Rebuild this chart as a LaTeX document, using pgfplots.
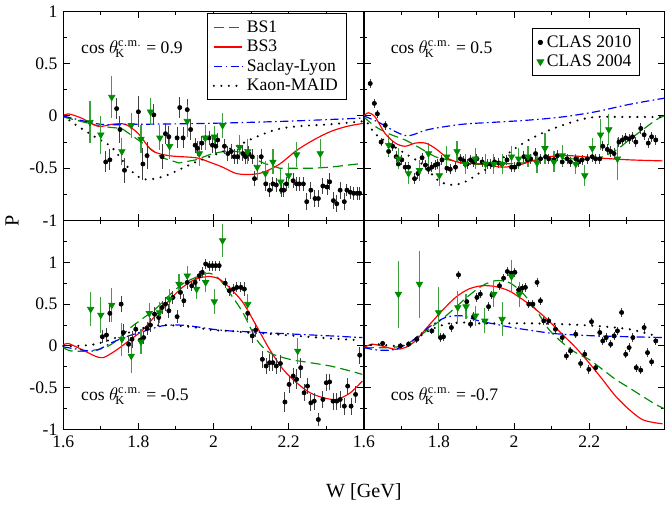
\documentclass[border=0pt]{standalone}
\usepackage{pgfplots}
\pgfplotsset{compat=1.18}
\usepgfplotslibrary{groupplots}
\usepackage{fontspec}
\setmainfont{Liberation Serif}
\definecolor{dgreen}{RGB}{0,140,0}
\definecolor{lgreen}{RGB}{60,160,60}
\pgfplotsset{
 bsone/.style={dgreen, dash pattern=on 6pt off 3pt, line width=0.7pt, no marks},
 bsthree/.style={red, line width=0.7pt, no marks},
 saclay/.style={blue, line width=0.7pt, dash pattern=on 5pt off 2pt on 1pt off 2pt, no marks},
 maid/.style={black, line width=1.4pt, dash pattern=on 0pt off 4.5pt, line cap=round, no marks},
 clasten/.style={only marks, mark=*, mark size=1.25pt, black, error bars/.cd, y dir=both, y explicit, error bar style={black!75, line width=0.6pt}, error mark=none},
 clasfour/.style={only marks, mark=triangle*, mark options={rotate=180, fill=dgreen, draw=dgreen}, mark size=2.2pt, dgreen, error bars/.cd, y dir=both, y explicit, error bar style={lgreen, line width=0.7pt}, error mark=none},
}
\tikzset{lab/.style={anchor=west, font=\fontsize{10.5}{12}\selectfont}}
\newcommand{\ct}[1]{cos $\theta^{\mathrm{c.m.}}_{\!\mathrm{K}}$ = #1}
\begin{document}
\begin{tikzpicture}
\begin{groupplot}[
 group style={group size=2 by 2, horizontal sep=0pt, vertical sep=0pt},
 scale only axis, width=179.4pt, height=124.8pt,
 xmin=1.6, xmax=2.4, xtick={1.6,1.8,2,2.2,2.4}, minor x tick num=1,
 minor y tick num=1, tick align=inside, tick pos=both,
 major tick length=4pt, minor tick length=2pt,
 /pgf/number format/assume math mode=true,
 ticklabel style={font=\fontsize{10.5}{12}\selectfont},
 axis line style={line width=0.8pt}, every tick/.style={black, line width=0.6pt},
 legend cell align=left,
 legend style={font=\fontsize{10.5}{12}\selectfont, draw=black, fill=white, line width=0.6pt, row sep=-1pt},
]
%%%%%%%%%%%%%%%%%% top left
\nextgroupplot[ymin=-1, ymax=1, ytick={-1,-0.5,0,0.5,1}, xticklabels={}, yticklabels={-1,-0.5,0,0.5,1},
 legend style={at={(rel axis cs:0.943,0.99)}, anchor=north east}]
\addplot[bsone] coordinates {(1.6,-0.01)(1.7,-0.1)(1.756,-0.12)(1.827,-0.3)(1.863,-0.4)(1.908,-0.45)(1.953,-0.42)(1.997,-0.36)(2.042,-0.33)(2.078,-0.35)(2.132,-0.45)(2.176,-0.5)(2.221,-0.5)(2.266,-0.5)(2.311,-0.49)(2.382,-0.46)(2.4,-0.45)};
\addlegendentry{BS1}
\addplot[bsthree, smooth] coordinates {(1.6,0)(1.613,0.02)(1.648,-0.02)(1.693,-0.1)(1.729,-0.08)(1.765,-0.08)(1.8,-0.17)(1.836,-0.33)(1.881,-0.38)(1.953,-0.4)(1.988,-0.44)(2.024,-0.49)(2.060,-0.55)(2.096,-0.56)(2.132,-0.54)(2.176,-0.46)(2.221,-0.33)(2.266,-0.23)(2.311,-0.15)(2.355,-0.1)(2.4,-0.07)};
\addlegendentry{BS3}
\addplot[saclay, smooth] coordinates {(1.6,0)(1.7,-0.08)(1.8,-0.08)(2.0,-0.07)(2.2,-0.05)(2.4,-0.02)};
\addlegendentry{Saclay-Lyon}
\addplot[maid, smooth] coordinates {(1.6,0)(1.631,-0.08)(1.684,-0.2)(1.729,-0.3)(1.774,-0.5)(1.809,-0.6)(1.845,-0.6)(1.881,-0.56)(1.917,-0.5)(1.953,-0.44)(1.997,-0.38)(2.060,-0.29)(2.114,-0.2)(2.167,-0.13)(2.221,-0.1)(2.311,-0.08)(2.4,-0.05)};
\addlegendentry{Kaon-MAID}
\addplot[forget plot, clasten] table[row sep=\\, y error=e] {
x y e\\ 1.713 -0.44 0.1\\ 1.724 -0.42 0.1\\ 1.742 0.07 0.1\\ 1.751 -0.13 0.13\\ 1.763 -0.52 0.12\\ 1.800 0.04 0.15\\ 1.812 -0.46 0.15\\ 1.823 -0.38 0.13\\ 1.841 0.01 0.1\\ 1.863 -0.39 0.12\\ 1.872 -0.17 0.1\\ 1.881 -0.20 0.1\\ 1.903 -0.21 0.1\\ 1.910 0.08 0.1\\ 1.919 -0.21 0.1\\ 1.930 0.06 0.1\\ 1.939 -0.13 0.1\\ 1.951 -0.28 0.07\\ 1.957 -0.31 0.07\\ 1.969 -0.26 0.07\\ 1.978 -0.21 0.07\\ 1.988 -0.21 0.07\\ 1.997 -0.28 0.07\\ 2.006 -0.29 0.07\\ 2.011 -0.23 0.07\\ 2.029 -0.29 0.07\\ 2.038 -0.36 0.07\\ 2.047 -0.34 0.07\\ 2.055 -0.39 0.07\\ 2.064 -0.39 0.07\\ 2.078 -0.36 0.07\\ 2.085 -0.39 0.07\\ 2.094 -0.36 0.07\\ 2.103 -0.39 0.07\\ 2.109 -0.60 0.07\\ 2.127 -0.39 0.07\\ 2.139 -0.65 0.07\\ 2.149 -0.71 0.07\\ 2.158 -0.65 0.07\\ 2.167 -0.66 0.07\\ 2.181 -0.71 0.07\\ 2.187 -0.71 0.07\\ 2.194 -0.65 0.07\\ 2.212 -0.62 0.07\\ 2.221 -0.65 0.07\\ 2.228 -0.65 0.07\\ 2.239 -0.65 0.07\\ 2.248 -0.82 0.08\\ 2.259 -0.71 0.08\\ 2.270 -0.79 0.08\\ 2.279 -0.79 0.08\\ 2.291 -0.67 0.08\\ 2.302 -0.68 0.08\\ 2.309 -0.63 0.08\\ 2.319 -0.81 0.08\\ 2.328 -0.84 0.08\\ 2.337 -0.71 0.08\\ 2.348 -0.82 0.08\\ 2.355 -0.71 0.06\\ 2.364 -0.73 0.06\\ 2.373 -0.74 0.06\\ 2.382 -0.74 0.06\\ 2.389 -0.74 0.06\\
};
\addplot[forget plot, clasfour] table[row sep=\\, y error=e] {
x y e\\ 1.671 -0.06 0.2\\ 1.700 -0.18 0.18\\ 1.729 0.18 0.2\\ 1.756 -0.34 0.13\\ 1.781 -0.09 0.12\\ 1.807 -0.22 0.13\\ 1.832 0.04 0.13\\ 1.857 -0.21 0.12\\ 1.883 -0.29 0.12\\ 1.930 -0.05 0.15\\ 1.962 -0.36 0.12\\ 1.978 -0.21 0.12\\ 2.002 -0.20 0.1\\ 2.024 -0.09 0.12\\ 2.069 -0.30 0.12\\ 2.091 -0.34 0.12\\ 2.116 -0.49 0.12\\ 2.138 -0.55 0.12\\ 2.158 -0.44 0.12\\ 2.179 -0.63 0.12\\ 2.200 -0.57 0.12\\ 2.221 -0.37 0.12\\ 2.284 -0.36 0.14\\
};
\node[lab] at (rel axis cs:0.04,0.82) {\ct{0.9}};
%%%%%%%%%%%%%%%%%% top right
\nextgroupplot[ymin=-1, ymax=1, ytick={-1,-0.5,0,0.5,1}, xticklabels={}, yticklabels={},
 legend style={at={(rel axis cs:0.92,0.92)}, anchor=north east}]
\addplot[clasten] table[row sep=\\, y error=e] {
x y e\\ 1.617 0.31 0.04\\ 1.628 0.12 0.04\\ 1.636 0.02 0.04\\ 1.646 -0.25 0.04\\ 1.657 -0.09 0.04\\ 1.666 -0.34 0.05\\ 1.677 -0.29 0.05\\ 1.686 -0.39 0.05\\ 1.692 -0.46 0.05\\ 1.701 -0.42 0.05\\ 1.710 -0.49 0.05\\ 1.719 -0.49 0.05\\ 1.735 -0.60 0.05\\ 1.744 -0.55 0.05\\ 1.755 -0.40 0.05\\ 1.764 -0.47 0.05\\ 1.772 -0.51 0.05\\ 1.781 -0.49 0.05\\ 1.790 -0.47 0.05\\ 1.797 -0.46 0.05\\ 1.808 -0.42 0.05\\ 1.821 -0.50 0.05\\ 1.830 -0.51 0.05\\ 1.844 -0.49 0.05\\ 1.857 -0.41 0.05\\ 1.866 -0.43 0.05\\ 1.875 -0.46 0.05\\ 1.884 -0.42 0.05\\ 1.892 -0.44 0.05\\ 1.901 -0.41 0.05\\ 1.915 -0.44 0.05\\ 1.928 -0.46 0.05\\ 1.937 -0.46 0.05\\ 1.948 -0.44 0.05\\ 1.959 -0.45 0.05\\ 1.968 -0.46 0.05\\ 1.981 -0.42 0.05\\ 1.993 -0.49 0.05\\ 2.002 -0.49 0.05\\ 2.012 -0.46 0.05\\ 2.026 -0.39 0.05\\ 2.035 -0.42 0.05\\ 2.044 -0.41 0.05\\ 2.057 -0.36 0.05\\ 2.070 -0.41 0.05\\ 2.084 -0.39 0.05\\ 2.092 -0.41 0.05\\ 2.106 -0.42 0.05\\ 2.115 -0.38 0.05\\ 2.128 -0.44 0.05\\ 2.141 -0.41 0.05\\ 2.150 -0.44 0.05\\ 2.164 -0.41 0.05\\ 2.172 -0.44 0.05\\ 2.181 -0.42 0.05\\ 2.195 -0.41 0.05\\ 2.208 -0.39 0.05\\ 2.217 -0.41 0.05\\ 2.228 -0.41 0.05\\ 2.236 -0.29 0.05\\ 2.248 -0.32 0.05\\ 2.257 -0.34 0.05\\ 2.266 -0.36 0.05\\ 2.279 -0.25 0.05\\ 2.288 -0.23 0.05\\ 2.297 -0.21 0.05\\ 2.306 -0.22 0.05\\ 2.315 -0.20 0.05\\ 2.324 -0.25 0.05\\ 2.337 -0.12 0.05\\ 2.346 -0.18 0.05\\ 2.357 -0.26 0.05\\ 2.366 -0.20 0.05\\ 2.377 -0.23 0.05\\
};
\addlegendentry{CLAS 2010}
\addplot[clasfour] table[row sep=\\, y error=e] {
x y e\\ 1.666 -0.28 0.1\\ 1.692 -0.41 0.1\\ 1.719 -0.55 0.1\\ 1.748 -0.52 0.1\\ 1.772 -0.36 0.1\\ 1.801 -0.57 0.1\\ 1.821 -0.39 0.1\\ 1.848 -0.34 0.1\\ 1.870 -0.46 0.1\\ 1.897 -0.41 0.1\\ 1.924 -0.46 0.1\\ 1.946 -0.46 0.1\\ 1.968 -0.46 0.1\\ 1.993 -0.39 0.1\\ 2.012 -0.41 0.1\\ 2.037 -0.39 0.1\\ 2.061 -0.45 0.1\\ 2.082 -0.31 0.15\\ 2.106 -0.44 0.1\\ 2.128 -0.38 0.1\\ 2.164 -0.46 0.1\\ 2.188 -0.57 0.1\\ 2.208 -0.31 0.1\\ 2.230 -0.18 0.15\\ 2.252 -0.13 0.15\\ 2.275 -0.41 0.2\\
};
\addlegendentry{CLAS 2004}
\addplot[forget plot, bsone, smooth] coordinates {(1.6,-0.01)(1.630,-0.1)(1.666,-0.17)(1.710,-0.23)(1.746,-0.3)(1.790,-0.39)(1.826,-0.42)(1.879,-0.46)(1.950,-0.46)(2.021,-0.45)(2.084,-0.41)(2.146,-0.41)(2.217,-0.41)(2.270,-0.33)(2.306,-0.23)(2.377,-0.04)(2.4,0.0)};
\addplot[forget plot, bsthree, smooth] coordinates {(1.6,0)(1.612,0.03)(1.630,-0.01)(1.657,-0.17)(1.684,-0.26)(1.710,-0.29)(1.737,-0.26)(1.764,-0.26)(1.790,-0.31)(1.826,-0.41)(1.861,-0.45)(1.915,-0.46)(1.968,-0.49)(2.012,-0.47)(2.057,-0.42)(2.092,-0.39)(2.146,-0.38)(2.217,-0.40)(2.306,-0.42)(2.395,-0.43)};
\addplot[forget plot, saclay, smooth] coordinates {(1.6,0)(1.639,-0.06)(1.684,-0.15)(1.719,-0.19)(1.772,-0.13)(1.861,-0.08)(1.950,-0.06)(2.039,-0.04)(2.128,-0.01)(2.217,0.04)(2.306,0.11)(2.4,0.17)};
\addplot[forget plot, maid, smooth] coordinates {(1.6,-0.01)(1.630,-0.17)(1.666,-0.26)(1.710,-0.36)(1.755,-0.46)(1.799,-0.62)(1.835,-0.66)(1.870,-0.63)(1.906,-0.55)(1.950,-0.46)(1.995,-0.33)(2.039,-0.23)(2.084,-0.15)(2.128,-0.09)(2.172,-0.04)(2.217,-0.01)(2.306,-0.01)(2.4,-0.01)};
\node[lab] at (rel axis cs:0.07,0.82) {\ct{0.5}};
%%%%%%%%%%%%%%%%%% bottom left
\nextgroupplot[ymin=-1, ymax=1.5, ytick={-1,-0.5,0,0.5,1,1.5}, yticklabels={-1,-0.5,0,0.5,1,},
 xticklabels={1.6,1.8,2,2.2,}, clip=false]
\addplot[bsone, smooth] coordinates {(1.6,-0.02)(1.621,-0.06)(1.666,-0.06)(1.711,-0.02)(1.747,0.08)(1.774,0.2)(1.809,0.32)(1.845,0.44)(1.881,0.6)(1.917,0.74)(1.953,0.82)(1.988,0.87)(2.015,0.8)(2.042,0.64)(2.078,0.4)(2.114,0.08)(2.149,-0.08)(2.203,-0.16)(2.257,-0.2)(2.311,-0.24)(2.364,-0.3)(2.396,-0.34)};
\addplot[bsthree, smooth] coordinates {(1.6,0.01)(1.613,0.03)(1.648,-0.04)(1.684,-0.12)(1.706,-0.14)(1.738,-0.06)(1.774,0.06)(1.809,0.18)(1.845,0.36)(1.881,0.54)(1.917,0.7)(1.953,0.8)(1.988,0.83)(2.015,0.8)(2.042,0.7)(2.078,0.52)(2.114,0.24)(2.149,-0.04)(2.185,-0.28)(2.221,-0.44)(2.257,-0.56)(2.293,-0.62)(2.328,-0.64)(2.364,-0.56)(2.396,-0.42)};
\addplot[saclay, smooth] coordinates {(1.6,-0.01)(1.639,-0.04)(1.684,-0.06)(1.729,0.04)(1.774,0.12)(1.818,0.18)(1.863,0.24)(1.908,0.25)(1.953,0.23)(1.997,0.2)(2.042,0.18)(2.087,0.17)(2.132,0.16)(2.221,0.14)(2.311,0.12)(2.396,0.1)};
\addplot[maid, smooth] coordinates {(1.6,0)(1.639,0)(1.684,0.02)(1.729,0.08)(1.774,0.16)(1.818,0.22)(1.863,0.25)(1.908,0.24)(1.953,0.22)(1.997,0.19)(2.042,0.18)(2.087,0.16)(2.132,0.15)(2.221,0.12)(2.311,0.09)(2.382,0.07)};
\addplot[clasten] table[row sep=\\, y error=e] {
x y e\\ 1.704 0.11 0.08\\ 1.715 0.13 0.08\\ 1.724 0.39 0.1\\ 1.754 0.50 0.1\\ 1.760 0.16 0.1\\ 1.774 0.02 0.1\\ 1.783 0.08 0.1\\ 1.793 0.20 0.08\\ 1.805 0.07 0.08\\ 1.814 0.10 0.08\\ 1.823 0.21 0.08\\ 1.832 0.25 0.08\\ 1.843 0.38 0.08\\ 1.854 0.34 0.08\\ 1.863 0.46 0.08\\ 1.872 0.50 0.08\\ 1.881 0.42 0.08\\ 1.892 0.58 0.08\\ 1.903 0.35 0.08\\ 1.912 0.64 0.08\\ 1.921 0.54 0.08\\ 1.930 0.76 0.08\\ 1.942 0.72 0.06\\ 1.951 0.76 0.06\\ 1.962 0.84 0.06\\ 1.970 0.88 0.06\\ 1.979 0.98 0.06\\ 1.988 0.96 0.06\\ 1.997 0.96 0.06\\ 2.006 0.96 0.06\\ 2.015 0.96 0.06\\ 2.031 0.75 0.06\\ 2.042 0.66 0.06\\ 2.053 0.68 0.06\\ 2.062 0.70 0.06\\ 2.073 0.70 0.06\\ 2.082 0.68 0.08\\ 2.091 0.39 0.08\\ 2.103 0.12 0.08\\ 2.112 0.19 0.08\\ 2.130 -0.16 0.1\\ 2.140 -0.24 0.1\\ 2.149 -0.20 0.1\\ 2.158 -0.20 0.1\\ 2.167 -0.24 0.1\\ 2.178 -0.21 0.1\\ 2.190 -0.67 0.12\\ 2.201 -0.46 0.1\\ 2.212 -0.36 0.1\\ 2.221 -0.40 0.12\\ 2.232 -0.26 0.12\\ 2.241 -0.56 0.1\\ 2.250 -0.48 0.1\\ 2.259 -0.68 0.1\\ 2.268 -0.66 0.1\\ 2.279 -0.88 0.08\\ 2.291 -0.64 0.1\\ 2.300 -0.44 0.1\\ 2.309 -0.43 0.1\\ 2.318 -0.66 0.1\\ 2.328 -0.66 0.1\\ 2.337 -0.64 0.1\\ 2.348 -0.72 0.1\\ 2.357 -0.48 0.1\\ 2.366 -0.72 0.1\\ 2.378 -0.58 0.1\\ 2.389 -0.11 0.1\\
};
\addplot[clasfour] table[row sep=\\, y error=e] {
x y e\\ 1.673 0.44 0.2\\ 1.700 0.37 0.22\\ 1.729 0.49 0.2\\ 1.756 0.08 0.2\\ 1.781 -0.12 0.2\\ 1.807 0.05 0.15\\ 1.829 0.39 0.12\\ 1.856 0.40 0.12\\ 1.883 0.56 0.12\\ 1.908 0.74 0.12\\ 1.930 0.84 0.12\\ 1.955 0.68 0.12\\ 1.979 0.76 0.12\\ 2.002 0.53 0.15\\ 2.024 1.26 0.2\\ 2.091 0.50 0.12\\ 2.224 -0.06 0.15\\
};
\node[lab] at (rel axis cs:0.04,0.16) {\ct{-0.5}};
\node[rotate=90, font=\fontsize{12}{14}\selectfont] at (rel axis cs:-0.17,1) {P};
\node[font=\fontsize{12}{14}\selectfont] at (rel axis cs:1,-0.3) {W [GeV]};
%%%%%%%%%%%%%%%%%% bottom right
\nextgroupplot[ymin=-1, ymax=1.5, ytick={-1,-0.5,0,0.5,1,1.5}, yticklabels={},
 xticklabels={1.6,1.8,2,2.2,}]
\addplot[bsone, smooth] coordinates {(1.6,-0.02)(1.630,-0.02)(1.666,-0.02)(1.701,0)(1.737,0.08)(1.772,0.2)(1.808,0.32)(1.844,0.46)(1.879,0.6)(1.915,0.72)(1.950,0.78)(1.986,0.76)(2.021,0.64)(2.057,0.44)(2.092,0.2)(2.128,0.04)(2.164,-0.08)(2.199,-0.16)(2.235,-0.28)(2.270,-0.4)(2.306,-0.5)(2.341,-0.6)(2.377,-0.7)(2.4,-0.75)};
\addplot[bsthree, smooth] coordinates {(1.6,-0.02)(1.621,0.02)(1.648,0)(1.684,-0.04)(1.710,-0.02)(1.737,0.06)(1.772,0.24)(1.808,0.42)(1.844,0.58)(1.879,0.68)(1.915,0.72)(1.950,0.71)(1.986,0.66)(2.021,0.56)(2.057,0.44)(2.092,0.3)(2.128,0.14)(2.164,-0.02)(2.199,-0.2)(2.235,-0.4)(2.270,-0.6)(2.306,-0.76)(2.341,-0.88)(2.377,-0.92)(2.395,-0.93)};
\addplot[saclay, smooth] coordinates {(1.6,-0.02)(1.639,-0.05)(1.684,-0.04)(1.728,0.06)(1.772,0.22)(1.817,0.34)(1.861,0.36)(1.906,0.3)(1.950,0.26)(1.995,0.22)(2.039,0.19)(2.084,0.16)(2.128,0.14)(2.217,0.12)(2.306,0.11)(2.4,0.1)};
\addplot[maid, smooth] coordinates {(1.6,0)(1.639,0.02)(1.684,0)(1.728,0.06)(1.772,0.18)(1.817,0.26)(1.861,0.28)(1.906,0.27)(1.950,0.27)(2.039,0.27)(2.128,0.26)(2.217,0.24)(2.306,0.2)(2.377,0.12)};
\addplot[clasten] table[row sep=\\, y error=e] {
x y e\\ 1.650 0.03 0.03\\ 1.697 0.00 0.03\\ 1.719 0.02 0.03\\ 1.741 0.08 0.04\\ 1.781 0.18 0.04\\ 1.804 0.10 0.05\\ 1.812 0.11 0.05\\ 1.833 0.22 0.05\\ 1.852 0.85 0.05\\ 1.874 0.53 0.05\\ 1.884 0.26 0.05\\ 1.892 0.35 0.05\\ 1.901 0.58 0.05\\ 1.910 0.62 0.05\\ 1.932 0.47 0.05\\ 1.941 0.61 0.05\\ 1.961 0.72 0.05\\ 1.972 0.81 0.05\\ 1.982 0.89 0.05\\ 1.993 0.87 0.05\\ 2.002 0.88 0.05\\ 2.012 0.67 0.05\\ 2.021 0.69 0.05\\ 2.030 0.70 0.05\\ 2.039 0.50 0.05\\ 2.050 0.50 0.05\\ 2.061 0.76 0.05\\ 2.070 0.54 0.05\\ 2.079 0.30 0.05\\ 2.092 0.30 0.05\\ 2.110 0.20 0.05\\ 2.128 0.10 0.05\\ 2.139 -0.12 0.05\\ 2.150 -0.06 0.05\\ 2.164 0.14 0.05\\ 2.177 -0.21 0.05\\ 2.188 -0.10 0.05\\ 2.199 -0.28 0.05\\ 2.206 0.29 0.05\\ 2.217 -0.26 0.05\\ 2.228 0.16 0.05\\ 2.236 0.06 0.05\\ 2.245 0.10 0.05\\ 2.257 0.02 0.05\\ 2.266 0.12 0.05\\ 2.275 0.18 0.05\\ 2.286 0.40 0.05\\ 2.297 -0.10 0.05\\ 2.306 -0.02 0.05\\ 2.316 0.10 0.05\\ 2.325 -0.26 0.05\\ 2.337 -0.29 0.05\\ 2.346 0.22 0.05\\ 2.355 -0.08 0.05\\ 2.366 -0.19 0.05\\ 2.377 0.06 0.05\\
};
\addplot[clasfour] table[row sep=\\, y error=e] {
x y e\\ 1.692 0.62 0.4\\ 1.748 0.74 0.4\\ 1.799 0.40 0.3\\ 1.850 0.46 0.2\\ 1.872 0.47 0.15\\ 1.897 0.36 0.12\\ 1.922 0.30 0.15\\ 1.946 0.62 0.15\\ 1.968 0.32 0.2\\ 1.993 0.83 0.2\\ 2.014 0.62 0.15\\
};
\node[lab] at (rel axis cs:0.07,0.16) {\ct{-0.7}};
\end{groupplot}
\end{tikzpicture}
\end{document}
